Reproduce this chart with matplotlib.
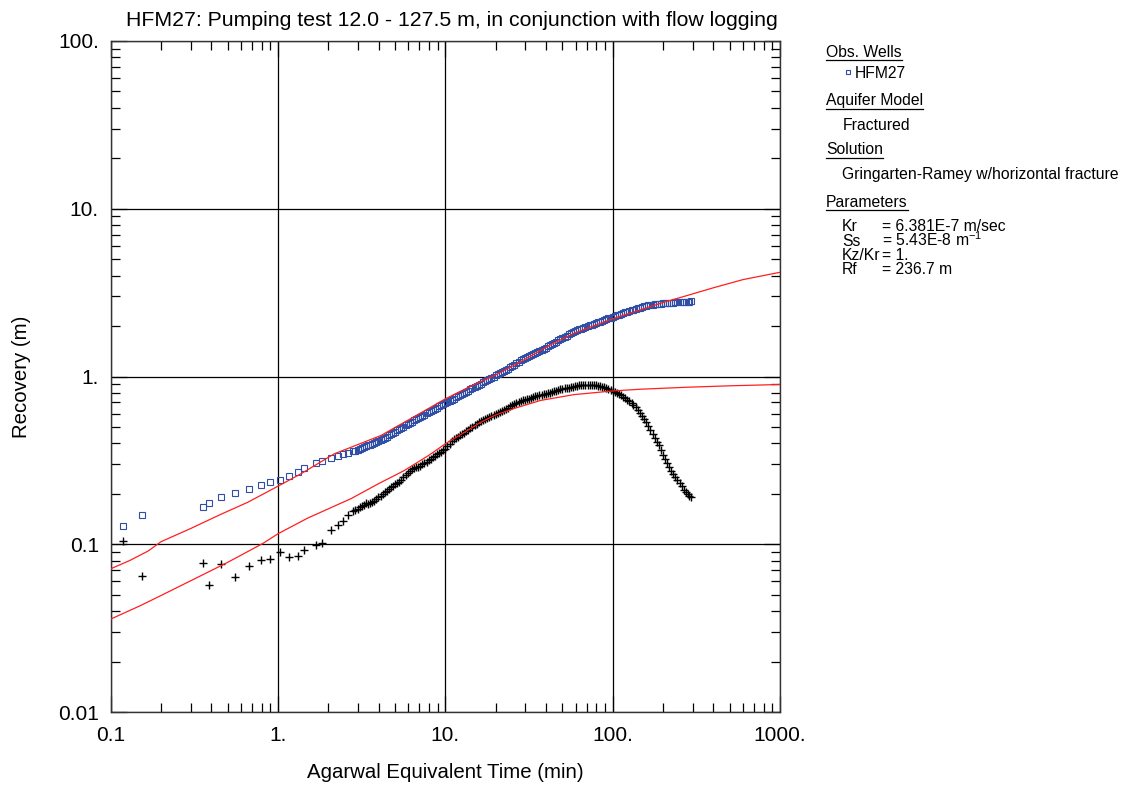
import matplotlib
matplotlib.use('Agg')
import matplotlib.pyplot as plt
from matplotlib.lines import Line2D
from matplotlib.ticker import LogLocator, NullFormatter

plt.rcParams['font.family'] = ['Liberation Sans', 'DejaVu Sans']
plt.rcParams['mathtext.default'] = 'regular'

# observation times (min)
t_obs = [0.119, 0.154, 0.355, 0.386, 0.457, 0.553, 0.674, 0.79, 0.896, 1.03,
         1.17, 1.31, 1.42, 1.69, 1.82, 2.07, 2.27, 2.45, 2.63,
         2.82, 2.90, 2.99, 3.07, 3.16, 3.25, 3.35, 3.45, 3.55, 3.65,
         3.76, 3.87, 3.98, 4.10, 4.22, 4.34, 4.47, 4.60, 4.73, 4.87,
         5.01, 5.16, 5.31, 5.46, 5.62, 5.79, 5.96, 6.13, 6.31, 6.49,
         6.68, 6.88, 7.08, 7.29, 7.50, 7.72, 7.94, 8.17, 8.41, 8.66,
         8.91, 9.17, 9.44, 9.72, 10.0, 10.3, 10.6, 10.9, 11.2, 11.5,
         11.9, 12.2, 12.6, 12.9, 13.3, 13.7, 14.1, 14.5, 15.0, 15.4,
         15.8, 16.3, 16.8, 17.3, 17.8, 18.3, 18.8, 19.4, 20.0, 20.5,
         21.1, 21.7, 22.4, 23.0, 23.7, 24.4, 25.1, 25.8, 26.6, 27.4,
         28.2, 29.0, 29.9, 30.7, 31.6, 32.5, 33.5, 34.5, 35.5, 36.5,
         37.6, 38.7, 39.8, 41.0, 42.2, 43.4, 44.7, 46.0, 47.3, 48.7,
         50.1, 51.6, 53.1, 54.6, 56.2, 57.9, 59.6, 61.3, 63.1, 64.9,
         66.8, 68.8, 70.8, 72.9, 75.0, 77.2, 79.4, 81.8, 84.1, 86.6,
         89.1, 91.7, 94.4, 97.2, 100, 103, 106, 109, 112, 115,
         119, 122, 126, 130, 133, 137, 141, 145, 150, 154,
         158, 163, 168, 173, 178, 183, 188, 194, 200, 205,
         211, 217, 224, 230, 237, 244, 251, 258, 266, 274,
         282, 287, 292]

# HFM27 recovery (m)
recovery = [0.129, 0.150, 0.166, 0.176, 0.190, 0.201, 0.214, 0.224, 0.236, 0.243,
            0.256, 0.268, 0.283, 0.306, 0.313, 0.326, 0.335, 0.343, 0.350,
            0.358, 0.362, 0.366, 0.370, 0.375, 0.379, 0.383, 0.388, 0.393, 0.397,
            0.402, 0.406, 0.411, 0.416, 0.422, 0.429, 0.437, 0.445, 0.453, 0.461,
            0.469, 0.477, 0.486, 0.494, 0.503, 0.512, 0.521, 0.530, 0.539, 0.547,
            0.556, 0.565, 0.575, 0.584, 0.593, 0.602, 0.612, 0.622, 0.632, 0.642,
            0.653, 0.663, 0.674, 0.684, 0.695, 0.706, 0.717, 0.728, 0.739, 0.751,
            0.764, 0.776, 0.788, 0.799, 0.811, 0.824, 0.838, 0.852, 0.867, 0.879,
            0.892, 0.907, 0.923, 0.938, 0.953, 0.968, 0.983, 1.000, 1.017, 1.032,
            1.047, 1.064, 1.081, 1.098, 1.116, 1.136, 1.157, 1.178, 1.200, 1.223,
            1.246, 1.264, 1.283, 1.301, 1.319, 1.338, 1.358, 1.378, 1.398, 1.419,
            1.440, 1.463, 1.487, 1.512, 1.537, 1.563, 1.589, 1.615, 1.641, 1.668,
            1.696, 1.725, 1.754, 1.783, 1.812, 1.840, 1.869, 1.889, 1.910, 1.930,
            1.951, 1.972, 1.994, 2.016, 2.038, 2.059, 2.081, 2.104, 2.127, 2.150,
            2.173, 2.197, 2.221, 2.245, 2.270, 2.293, 2.316, 2.338, 2.360, 2.384,
            2.409, 2.432, 2.456, 2.479, 2.502, 2.527, 2.553, 2.577, 2.602, 2.617,
            2.633, 2.652, 2.671, 2.686, 2.702, 2.708, 2.715, 2.721, 2.727, 2.733,
            2.739, 2.746, 2.753, 2.759, 2.765, 2.770, 2.774, 2.779, 2.784, 2.789,
            2.794, 2.797, 2.800]

# recovery derivative (m)
deriv = [0.105, 0.065, 0.077, 0.0574, 0.076, 0.0636, 0.0747, 0.0807, 0.0815, 0.0897,
         0.0841, 0.0848, 0.0922, 0.0994, 0.102, 0.122, 0.130, 0.138, 0.150,
         0.158, 0.161, 0.163, 0.166, 0.168, 0.172, 0.175, 0.174, 0.176, 0.179,
         0.181, 0.186, 0.190, 0.194, 0.198, 0.204, 0.209, 0.213, 0.218, 0.223,
         0.228, 0.232, 0.236, 0.243, 0.250, 0.258, 0.265, 0.272, 0.279, 0.283,
         0.287, 0.290, 0.293, 0.299, 0.304, 0.310, 0.316, 0.323, 0.330, 0.337,
         0.344, 0.349, 0.355, 0.363, 0.372, 0.385, 0.398, 0.410, 0.422, 0.430,
         0.437, 0.445, 0.453, 0.462, 0.471, 0.480, 0.490, 0.501, 0.512, 0.524,
         0.535, 0.542, 0.550, 0.558, 0.566, 0.572, 0.578, 0.588, 0.597, 0.604,
         0.612, 0.622, 0.632, 0.642, 0.652, 0.665, 0.677, 0.686, 0.695, 0.705,
         0.716, 0.720, 0.725, 0.731, 0.738, 0.745, 0.752, 0.760, 0.768, 0.773,
         0.779, 0.784, 0.789, 0.794, 0.800, 0.807, 0.815, 0.823, 0.832, 0.838,
         0.845, 0.850, 0.855, 0.859, 0.864, 0.869, 0.874, 0.879, 0.884, 0.888,
         0.891, 0.893, 0.895, 0.894, 0.892, 0.888, 0.884, 0.879, 0.874, 0.867,
         0.860, 0.852, 0.843, 0.834, 0.825, 0.813, 0.800, 0.786, 0.772, 0.759,
         0.745, 0.729, 0.712, 0.694, 0.675, 0.654, 0.633, 0.609, 0.584, 0.560,
         0.537, 0.508, 0.480, 0.455, 0.430, 0.409, 0.388, 0.364, 0.342, 0.323,
         0.305, 0.290, 0.275, 0.262, 0.250, 0.241, 0.232, 0.222, 0.212, 0.205,
         0.198, 0.195, 0.192]

# type curve (Gringarten-Ramey) and its derivative
t_fit = [0.1, 0.13, 0.167, 0.2, 0.3, 0.45, 0.66, 1.0, 1.37, 2.17, 4.12, 6.2, 10,
         14.9, 19.1, 28, 42.8, 58.8, 100, 147, 200, 279, 400, 600, 1000]
s_fit = [0.0714, 0.080, 0.091, 0.1036, 0.124, 0.150, 0.178, 0.222, 0.263, 0.346,
         0.445, 0.56, 0.736, 0.896, 1.0, 1.22, 1.55, 1.81, 2.21, 2.5, 2.76, 3.04,
         3.38, 3.78, 4.18]
t_fit_d = [0.1, 0.15, 0.2, 0.3, 0.5, 0.81, 1.0, 1.5, 2.73, 4.0, 5.68, 8, 10, 13,
           16.3, 20, 25.8, 37.1, 58.8, 100, 147, 279, 500, 1000]
s_fit_d = [0.0358, 0.0430, 0.0495, 0.0605, 0.078, 0.101, 0.1155, 0.143, 0.187,
           0.230, 0.275, 0.340, 0.397, 0.465, 0.534, 0.59, 0.645, 0.72, 0.78,
           0.82, 0.84, 0.863, 0.88, 0.896]

x_ticks = [0.1, 1, 10, 100, 1000]
x_labels = ['0.1', '1.', '10.', '100.', '1000.']
y_ticks = [0.01, 0.1, 1, 10, 100]
y_labels = ['0.01', '0.1', '1.', '10.', '100.']

W, H = 1125, 785
fig = plt.figure(figsize=(W / 100, H / 100), dpi=100)
ax = fig.add_axes([110.7 / W, 1 - 712 / H, (780 - 110.7) / W, (712 - 41) / H])

blue = '#2f4fa6'
red = '#ff1f1f'

ax.plot(t_obs, recovery, ls='none', marker='s', ms=4.2, mfc='none', mec=blue, mew=0.8, zorder=3)
ax.plot(t_obs, deriv, ls='none', marker='+', ms=5.5, color='black', mew=1.0, zorder=3)
ax.plot(t_fit, s_fit, color=red, lw=0.9, zorder=4)
ax.plot(t_fit_d, s_fit_d, color=red, lw=0.9, zorder=4)

ax.set_xscale('log')
ax.set_yscale('log')
ax.set_xlim(0.1, 1000)
ax.set_ylim(0.01, 100)
ax.set_xticks(x_ticks, x_labels)
ax.set_yticks(y_ticks, y_labels)
for axis in (ax.xaxis, ax.yaxis):
    axis.set_minor_locator(LogLocator(base=10, subs=range(2, 10)))
    axis.set_minor_formatter(NullFormatter())

ax.grid(True, which='major', color='black', lw=0.9)
ax.tick_params(which='both', direction='in', top=True, right=True, width=0.9, colors='black')
ax.tick_params(which='major', length=11.5, labelsize=15)
ax.tick_params(axis='x', which='major', pad=10)
ax.tick_params(axis='y', which='major', pad=8.5)
ax.tick_params(which='minor', length=6.5)
for sp in ax.spines.values():
    sp.set_color('#333333')
    sp.set_linewidth(1.0)

ax.set_title('HFM27: Pumping test 12.0 - 127.5 m, in conjunction with flow logging',
             fontsize=15.3, pad=11, x=(452 - 110.7) / 669.3)
ax.set_xlabel('Agarwal Equivalent Time (min)', fontsize=14.7)
ax.set_ylabel('Recovery (m)', fontsize=14.7)
ax.xaxis.set_label_coords(0.5, (712 - 763) / 671)
ax.yaxis.set_label_coords((31 - 110.7) / 669.3, 0.5)


def px(x, y):
    return x / W, 1 - y / H


fs = 11.3
headers = [('Obs. Wells', 51.7), ('Aquifer Model', 100), ('Solution', 149), ('Parameters', 201.7)]
head_texts = []
for s, y in headers:
    head_texts.append(fig.text(*px(826, y + 5.5), s, fontsize=fs, va='baseline', ha='left'))

fig.text(*px(855, 72.3 + 5.5), 'HFM27', fontsize=fs, va='baseline')
fig.add_artist(Line2D([848.3 / W], [1 - 72.3 / H], transform=fig.transFigure, marker='s',
                      ms=3.2, mfc='none', mec=blue, mew=0.8, ls='none'))
fig.text(*px(843, 124 + 5.5), 'Fractured', fontsize=fs, va='baseline')
fig.text(*px(842, 174 + 5.5), 'Gringarten-Ramey w/horizontal fracture', fontsize=fs, va='baseline')

params = [('Kr', '= 6.381E-7 m/sec', 225.7), ('Ss', '= 5.43E-8 m$^{-1}$', 240),
          ('Kz/Kr', '= 1.', 254), ('Rf', '= 236.7 m', 269)]
for name, val, y in params:
    fig.text(*px(842, y + 5.5), name, fontsize=fs, va='baseline')
    fig.text(*px(882, y + 5.5), val, fontsize=fs, va='baseline')

# underline the legend headers
fig.canvas.draw()
r = fig.canvas.get_renderer()
for t, (s, y) in zip(head_texts, headers):
    bb = t.get_window_extent(r)
    yy = 1 - (y + 8.5) / H
    fig.add_artist(Line2D([bb.x0 / W, bb.x1 / W], [yy, yy], transform=fig.transFigure,
                          color='black', lw=0.9))

fig.savefig('out.png', dpi=100)
